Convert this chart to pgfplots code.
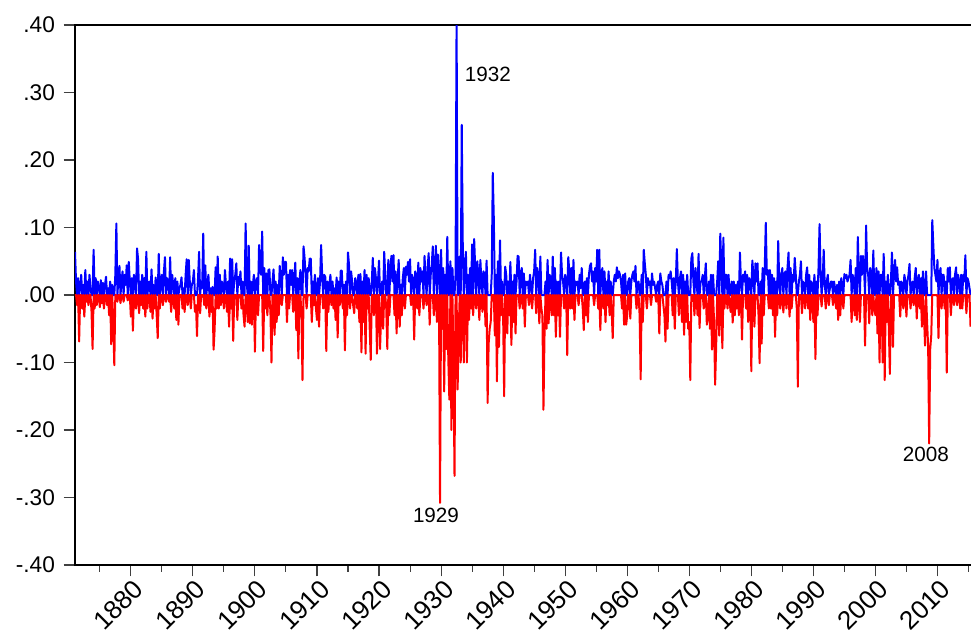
\documentclass[border=0pt]{standalone}
\usepackage{pgfplots}
\pgfplotsset{compat=1.18}
\usepackage{pgfplotstable}
\usepackage{fontspec}
\setmainfont{Liberation Sans}

% bimonthly returns, one line per year, 1871 to 2015
\pgfplotstableread[row sep=\\]{
r\\
0.064\\ 0.02\\ -0.015\\ 0.025\\ -0.069\\ 0.01\\
0.03\\ -0.02\\ 0.015\\ -0.032\\ 0.037\\ -0.01\\
0.02\\ -0.015\\ 0.03\\ 0.01\\ -0.025\\ -0.080\\
0.067\\ -0.02\\ 0.025\\ -0.015\\ 0.02\\ 0.01\\
-0.018\\ 0.022\\ -0.012\\ 0.018\\ -0.02\\ 0.015\\
0.027\\ -0.015\\ 0.01\\ -0.03\\ 0.02\\ -0.073\\
0.015\\ -0.04\\ -0.104\\ 0.03\\ 0.106\\ -0.01\\
0.025\\ 0.043\\ -0.012\\ 0.02\\ 0.035\\ -0.01\\
0.03\\ 0.015\\ 0.044\\ -0.008\\ 0.049\\ 0.02\\
-0.032\\ 0.025\\ -0.053\\ 0.03\\ 0.015\\ -0.02\\
0.069\\ 0.053\\ -0.027\\ 0.02\\ -0.015\\ 0.03\\
-0.02\\ 0.025\\ -0.032\\ 0.064\\ -0.02\\ 0.015\\
0.02\\ -0.025\\ 0.038\\ -0.035\\ 0.015\\ -0.02\\
0.026\\ -0.03\\ -0.064\\ 0.061\\ -0.02\\ 0.015\\
0.03\\ -0.015\\ 0.035\\ 0.056\\ -0.01\\ 0.025\\
0.02\\ -0.01\\ 0.056\\ -0.025\\ 0.03\\ 0.015\\
-0.02\\ 0.025\\ -0.037\\ 0.02\\ -0.044\\ 0.01\\
0.015\\ 0.026\\ -0.02\\ 0.01\\ -0.025\\ 0.03\\
0.053\\ -0.015\\ 0.052\\ 0.02\\ -0.02\\ 0.015\\
0.02\\ 0.037\\ -0.025\\ -0.015\\ -0.061\\ 0.025\\
0.064\\ -0.027\\ 0.02\\ 0.01\\ 0.091\\ -0.015\\
0.044\\ -0.02\\ 0.015\\ 0.03\\ -0.032\\ 0.01\\
-0.025\\ 0.012\\ -0.081\\ -0.052\\ 0.041\\ -0.02\\
0.057\\ -0.02\\ 0.03\\ -0.015\\ 0.02\\ 0.01\\
-0.02\\ 0.037\\ 0.015\\ -0.025\\ 0.02\\ -0.047\\
0.054\\ -0.02\\ 0.053\\ -0.068\\ 0.02\\ 0.03\\
0.047\\ -0.037\\ 0.027\\ 0.015\\ 0.035\\ -0.02\\
0.02\\ -0.03\\ -0.047\\ 0.106\\ 0.02\\ -0.04\\
0.073\\ -0.042\\ 0.02\\ -0.044\\ 0.015\\ 0.03\\
-0.084\\ 0.02\\ 0.025\\ -0.03\\ 0.074\\ 0.035\\
0.03\\ 0.094\\ -0.083\\ 0.04\\ -0.02\\ 0.032\\
-0.03\\ 0.037\\ 0.038\\ -0.025\\ -0.10\\ 0.02\\
0.038\\ -0.059\\ 0.02\\ -0.04\\ 0.015\\ -0.03\\
0.043\\ 0.02\\ -0.015\\ 0.056\\ 0.03\\ 0.049\\
0.049\\ -0.04\\ 0.03\\ -0.02\\ 0.037\\ 0.015\\
0.037\\ -0.025\\ 0.02\\ 0.048\\ -0.052\\ 0.025\\
-0.094\\ 0.02\\ 0.037\\ -0.03\\ -0.126\\ 0.072\\
0.055\\ 0.03\\ -0.02\\ 0.04\\ 0.035\\ 0.054\\
0.054\\ -0.04\\ 0.02\\ -0.015\\ 0.03\\ -0.02\\
-0.037\\ 0.025\\ -0.047\\ 0.02\\ 0.074\\ 0.03\\
-0.02\\ 0.03\\ 0.027\\ -0.083\\ 0.02\\ -0.025\\
0.015\\ 0.03\\ -0.015\\ 0.02\\ -0.02\\ 0.01\\
-0.037\\ 0.026\\ -0.063\\ 0.02\\ -0.015\\ 0.036\\
0.036\\ -0.02\\ 0.015\\ -0.082\\ 0.02\\ -0.03\\
0.063\\ 0.044\\ -0.02\\ 0.035\\ 0.02\\ -0.015\\
-0.027\\ 0.025\\ 0.018\\ -0.02\\ 0.03\\ -0.04\\
0.031\\ -0.085\\ 0.02\\ -0.04\\ 0.037\\ -0.087\\
0.03\\ -0.02\\ 0.025\\ -0.05\\ -0.096\\ 0.02\\
0.055\\ -0.03\\ 0.04\\ 0.025\\ -0.087\\ 0.02\\
0.051\\ -0.080\\ -0.03\\ 0.02\\ -0.05\\ 0.064\\
0.03\\ -0.02\\ -0.08\\ 0.052\\ -0.03\\ 0.04\\
0.058\\ 0.02\\ 0.059\\ -0.03\\ 0.035\\ -0.057\\
0.02\\ 0.052\\ -0.047\\ 0.015\\ -0.03\\ 0.025\\
0.04\\ -0.02\\ 0.042\\ 0.03\\ 0.049\\ 0.02\\
0.053\\ -0.015\\ 0.03\\ 0.02\\ -0.066\\ 0.035\\
0.03\\ -0.02\\ 0.048\\ -0.03\\ 0.04\\ 0.02\\
0.035\\ -0.02\\ 0.058\\ 0.025\\ -0.015\\ 0.04\\
0.062\\ -0.044\\ 0.03\\ 0.045\\ 0.072\\ -0.03\\
0.04\\ 0.073\\ -0.04\\ 0.06\\ 0.03\\ -0.308\\
0.067\\ -0.05\\ 0.04\\ -0.143\\ 0.03\\ -0.08\\
0.086\\ -0.094\\ -0.155\\ 0.05\\ -0.20\\ 0.04\\
-0.10\\ -0.268\\ 0.03\\ 0.41\\ -0.14\\ -0.06\\
0.057\\ -0.10\\ 0.252\\ 0.07\\ -0.10\\ 0.04\\
0.064\\ -0.10\\ 0.03\\ -0.037\\ 0.04\\ -0.02\\
0.075\\ -0.03\\ 0.083\\ 0.04\\ -0.02\\ 0.05\\
0.03\\ -0.037\\ 0.052\\ 0.02\\ -0.025\\ 0.035\\
0.03\\ -0.046\\ 0.051\\ -0.16\\ -0.072\\ -0.05\\
-0.04\\ 0.03\\ 0.181\\ 0.113\\ -0.06\\ 0.03\\
-0.128\\ 0.05\\ -0.077\\ 0.081\\ -0.03\\ 0.02\\
-0.03\\ -0.15\\ 0.042\\ 0.03\\ -0.057\\ 0.02\\
-0.03\\ 0.049\\ -0.074\\ 0.02\\ -0.04\\ 0.03\\
-0.057\\ 0.02\\ 0.058\\ 0.057\\ -0.02\\ 0.03\\
0.04\\ -0.02\\ 0.032\\ -0.047\\ 0.02\\ 0.015\\
0.02\\ -0.015\\ 0.03\\ 0.01\\ -0.02\\ 0.025\\
0.035\\ 0.067\\ -0.027\\ 0.04\\ 0.02\\ -0.042\\
0.057\\ -0.02\\ -0.03\\ -0.170\\ -0.062\\ 0.02\\
-0.05\\ 0.052\\ -0.042\\ 0.03\\ 0.02\\ -0.03\\
0.057\\ -0.03\\ 0.04\\ -0.062\\ 0.02\\ -0.03\\
0.02\\ -0.062\\ 0.063\\ 0.03\\ 0.02\\ -0.02\\
0.03\\ 0.02\\ -0.089\\ 0.056\\ 0.035\\ -0.02\\
0.04\\ -0.02\\ 0.052\\ -0.037\\ 0.02\\ 0.015\\
0.02\\ -0.015\\ 0.03\\ 0.01\\ 0.04\\ -0.02\\
-0.052\\ 0.02\\ -0.03\\ 0.025\\ -0.04\\ 0.03\\
0.043\\ 0.047\\ 0.02\\ 0.035\\ -0.015\\ 0.04\\
0.02\\ 0.067\\ -0.02\\ 0.067\\ -0.052\\ 0.03\\
0.04\\ -0.02\\ 0.035\\ -0.04\\ 0.02\\ -0.015\\
0.035\\ -0.03\\ 0.02\\ -0.025\\ -0.064\\ 0.02\\
0.03\\ 0.02\\ 0.041\\ 0.025\\ 0.035\\ 0.03\\
0.02\\ -0.02\\ 0.03\\ -0.044\\ 0.032\\ -0.044\\
-0.03\\ 0.02\\ 0.025\\ -0.035\\ 0.02\\ 0.03\\
0.035\\ 0.02\\ 0.043\\ -0.02\\ 0.015\\ 0.02\\
-0.03\\ -0.125\\ 0.03\\ -0.04\\ 0.067\\ 0.047\\
0.03\\ -0.02\\ 0.025\\ 0.015\\ 0.02\\ -0.015\\
0.032\\ 0.015\\ 0.02\\ 0.01\\ -0.01\\ 0.015\\
0.02\\ -0.057\\ 0.032\\ 0.02\\ 0.015\\ -0.015\\
-0.03\\ -0.069\\ 0.02\\ -0.05\\ 0.03\\ 0.025\\
0.035\\ 0.02\\ -0.03\\ 0.025\\ -0.05\\ 0.02\\
0.068\\ 0.02\\ -0.03\\ 0.025\\ 0.035\\ -0.04\\
0.03\\ -0.059\\ 0.02\\ -0.04\\ 0.03\\ -0.05\\
-0.04\\ -0.126\\ 0.054\\ 0.062\\ 0.02\\ -0.03\\
0.04\\ 0.02\\ -0.03\\ 0.061\\ -0.049\\ 0.02\\
0.02\\ 0.03\\ -0.02\\ 0.025\\ 0.047\\ -0.044\\
-0.03\\ 0.02\\ -0.05\\ 0.03\\ -0.081\\ 0.03\\
-0.04\\ -0.133\\ -0.077\\ 0.02\\ 0.05\\ -0.06\\
0.091\\ 0.04\\ -0.079\\ 0.085\\ -0.02\\ 0.03\\
0.03\\ -0.02\\ 0.03\\ -0.01\\ -0.025\\ 0.02\\
-0.041\\ 0.02\\ -0.03\\ 0.015\\ -0.02\\ 0.02\\
-0.03\\ 0.063\\ 0.02\\ -0.066\\ 0.03\\ 0.02\\
0.035\\ -0.02\\ 0.03\\ -0.04\\ 0.025\\ 0.02\\
-0.113\\ 0.051\\ 0.03\\ -0.047\\ 0.047\\ 0.02\\
0.047\\ -0.03\\ -0.101\\ 0.02\\ -0.072\\ 0.04\\
-0.03\\ 0.04\\ 0.107\\ 0.03\\ 0.037\\ -0.02\\
0.037\\ -0.02\\ 0.03\\ -0.03\\ 0.025\\ -0.062\\
0.02\\ -0.03\\ 0.08\\ 0.02\\ -0.02\\ 0.03\\
0.04\\ -0.026\\ 0.03\\ 0.035\\ -0.02\\ 0.04\\
0.063\\ -0.032\\ 0.04\\ -0.02\\ 0.03\\ 0.02\\
0.055\\ 0.03\\ -0.02\\ -0.136\\ 0.02\\ 0.03\\
0.05\\ -0.027\\ 0.02\\ 0.015\\ -0.02\\ 0.03\\
0.041\\ -0.02\\ 0.03\\ -0.037\\ 0.02\\ 0.015\\
-0.04\\ 0.03\\ -0.095\\ 0.02\\ -0.03\\ 0.04\\
0.105\\ 0.03\\ -0.017\\ 0.02\\ 0.067\\ 0.015\\
-0.02\\ 0.02\\ 0.03\\ -0.015\\ 0.01\\ 0.02\\
0.02\\ -0.015\\ 0.02\\ 0.01\\ -0.02\\ 0.015\\
-0.037\\ 0.02\\ -0.03\\ 0.025\\ 0.015\\ -0.02\\
0.031\\ 0.025\\ 0.03\\ 0.02\\ 0.025\\ 0.03\\
0.052\\ -0.04\\ 0.03\\ 0.02\\ -0.03\\ 0.04\\
-0.037\\ 0.086\\ 0.03\\ -0.04\\ 0.058\\ 0.03\\
0.058\\ 0.04\\ -0.075\\ 0.103\\ 0.04\\ 0.03\\
-0.042\\ 0.04\\ 0.03\\ -0.03\\ 0.066\\ -0.02\\
-0.03\\ 0.04\\ -0.057\\ 0.035\\ -0.10\\ 0.03\\
0.03\\ -0.10\\ 0.061\\ -0.126\\ 0.02\\ -0.04\\
0.03\\ -0.05\\ -0.117\\ 0.02\\ 0.063\\ -0.077\\
0.03\\ 0.052\\ 0.02\\ 0.041\\ 0.015\\ 0.02\\
-0.032\\ 0.02\\ 0.015\\ -0.02\\ 0.03\\ 0.02\\
-0.032\\ 0.02\\ 0.03\\ 0.046\\ -0.02\\ 0.015\\
0.02\\ -0.015\\ 0.025\\ 0.04\\ -0.035\\ 0.02\\
0.03\\ -0.02\\ 0.025\\ -0.047\\ 0.035\\ -0.03\\
-0.075\\ 0.035\\ -0.04\\ -0.077\\ -0.22\\ -0.08\\
-0.06\\ 0.111\\ 0.074\\ 0.04\\ 0.03\\ 0.02\\
0.052\\ -0.064\\ 0.03\\ 0.04\\ -0.02\\ 0.03\\
0.03\\ -0.02\\ 0.02\\ -0.115\\ 0.04\\ 0.02\\
0.041\\ -0.03\\ 0.02\\ 0.025\\ -0.015\\ 0.03\\
0.041\\ -0.015\\ 0.03\\ 0.02\\ -0.02\\ 0.03\\
-0.02\\ 0.03\\ 0.02\\ 0.059\\ -0.027\\ 0.025\\
0.02\\ 0.01\\ -0.047\\
}\ret
% dates: start of 1871, six observations a year
\pgfplotstablecreatecol[create col/expr={1871+\pgfplotstablerow/6}]{t}\ret

\begin{document}
\begin{tikzpicture}
\begin{axis}[
    at={(0,0)}, anchor=south west,
    scale only axis,
    width=672.9pt, height=405pt,
    xmin=1871, xmax=2015.6,
    ymin=-0.4, ymax=0.4,
    axis line style={line width=1.1pt},
    tick align=outside,
    major tick length=8.5pt,
    minor tick length=5pt,
    tick style={line width=0.8pt, black!75},
    xtick={1880,1890,...,2010},
    xticklabels={1880,1890,1900,1910,1920,1930,1940,1950,1960,1970,1980,1990,2000,2010},
    minor xtick={1875,1885,...,2015},
    ytick={-0.4,-0.3,...,0.4},
    yticklabels={-.40,-.30,-.20,-.10,.00,.10,.20,.30,.40},
    xtick pos=bottom, ytick pos=left,
    yticklabel style={font=\fontsize{17}{20}\selectfont, xshift=-3pt},
    xticklabel style={font=\fontsize{19.5}{23}\selectfont, rotate=45,
        anchor=north east, inner sep=0pt, yshift=-1.5pt},
]
\addplot[blue, line width=1.5pt, line join=round]
    table[x=t, y expr={max(\thisrow{r},0)}] {\ret};
\addplot[red, line width=1.5pt, line join=round]
    table[x=t, y expr={min(\thisrow{r},0)}] {\ret};
\node[font=\fontsize{15.5}{18}\selectfont] at (axis cs:1937.56,0.327) {1932};
\node[font=\fontsize{15.5}{18}\selectfont] at (axis cs:1929.18,-0.327) {1929};
\node[font=\fontsize{15.5}{18}\selectfont] at (axis cs:2008.15,-0.236) {2008};
\end{axis}
\pgfresetboundingbox
\path (-56.25pt,-51pt) rectangle (672pt,423.75pt);
\end{tikzpicture}
\end{document}
